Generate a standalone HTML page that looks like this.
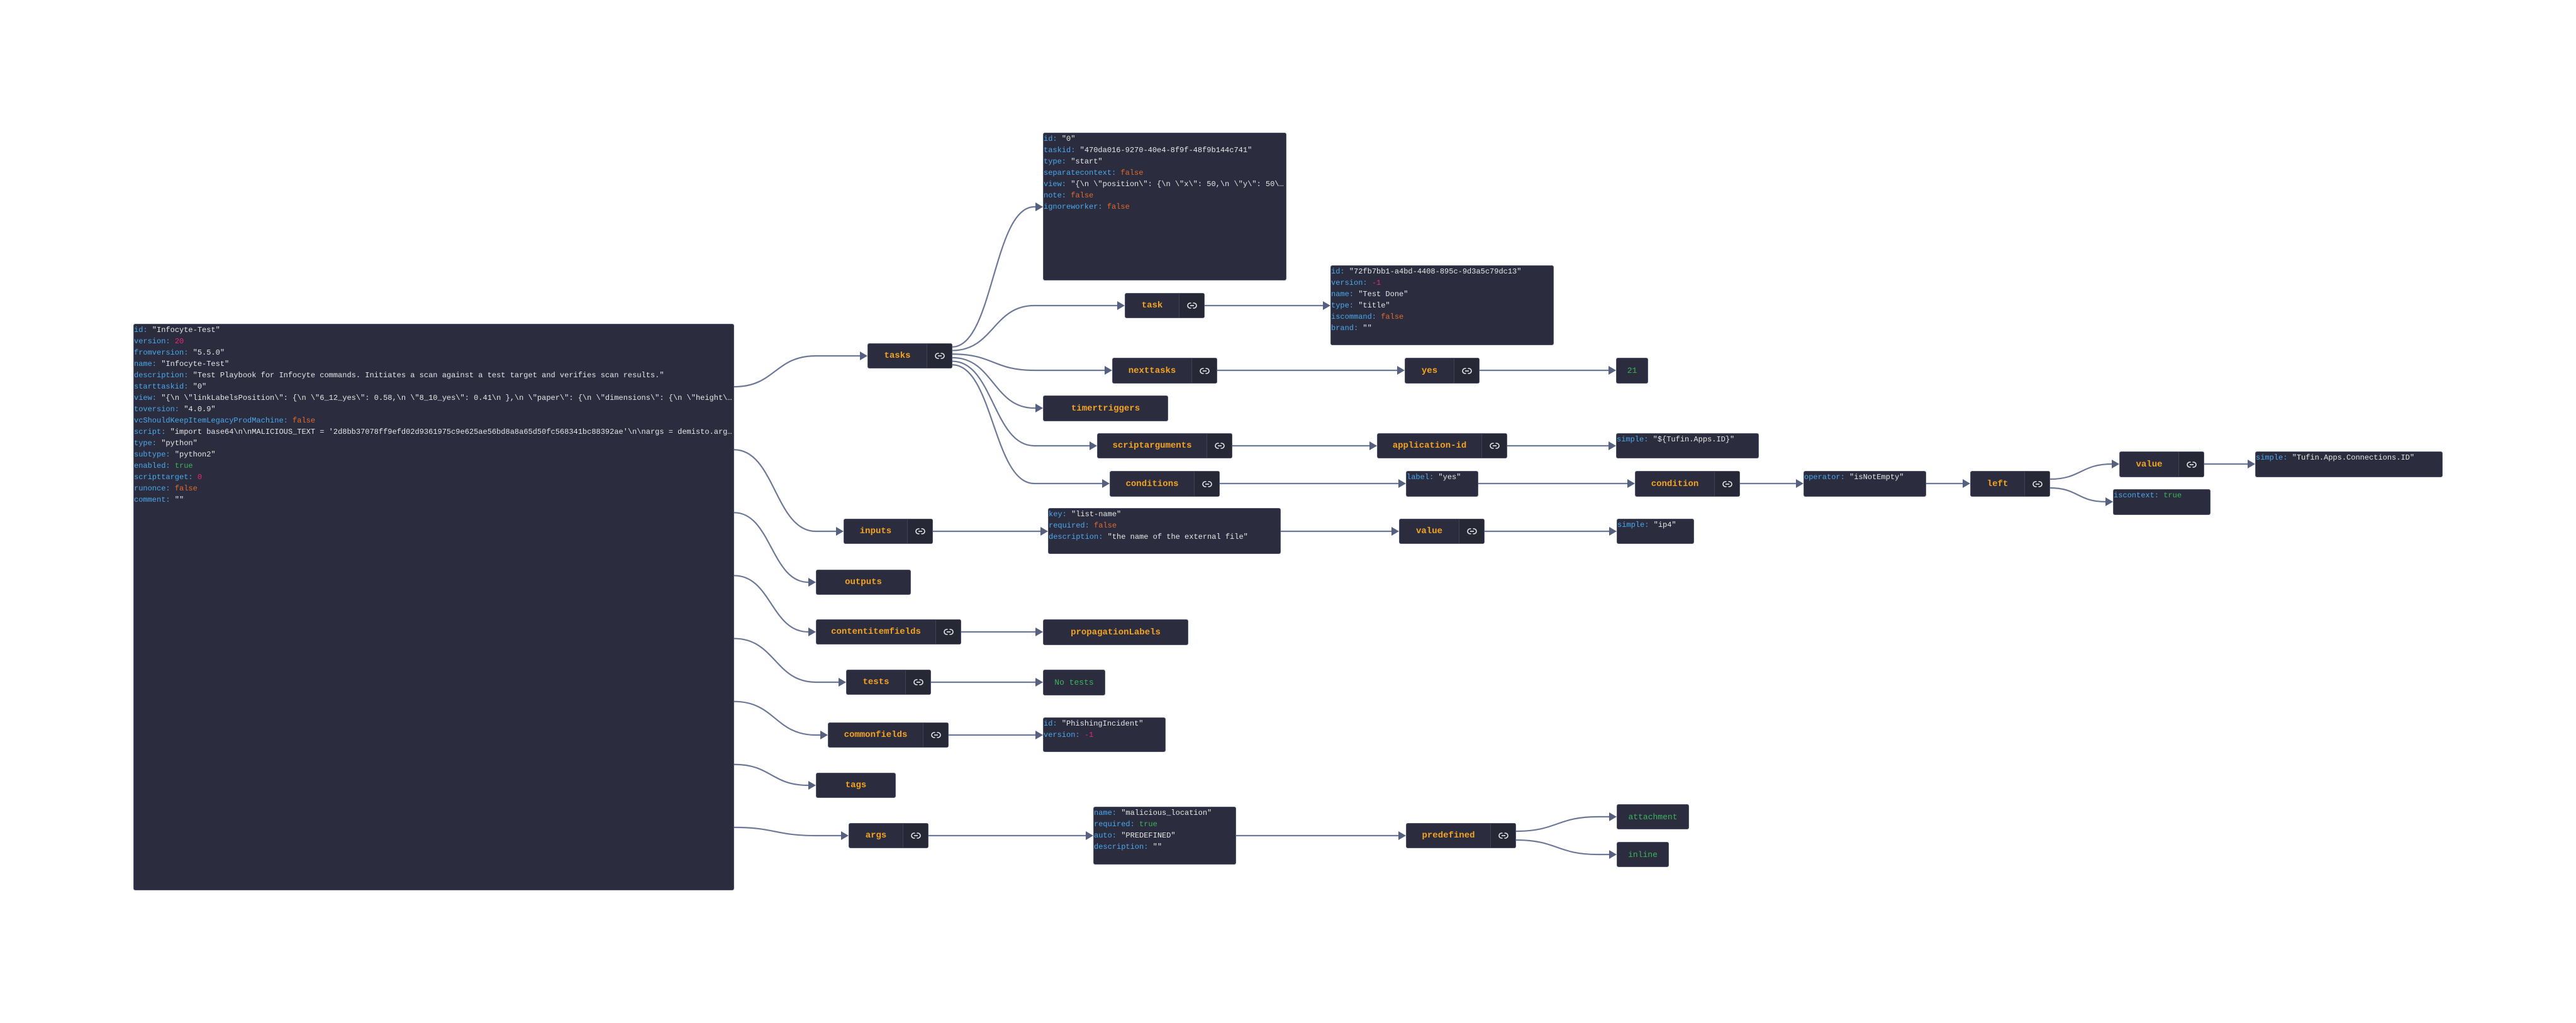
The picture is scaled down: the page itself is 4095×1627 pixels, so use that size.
<!DOCTYPE html>
<html><head><meta charset="utf-8"><style>
html,body{margin:0;padding:0;background:#fff;}
body{width:4095px;height:1627px;position:relative;overflow:hidden;font-family:"Liberation Mono",monospace;}
svg#e{position:absolute;left:0;top:0;}
.n{position:absolute;background:#2b2d3e;border:1.5px solid #4d5673;border-radius:3px;box-sizing:border-box;display:flex;align-items:stretch;}
.lb{flex:1;display:flex;align-items:center;justify-content:center;color:#f4a321;font:bold 14px "Liberation Mono",monospace;}
.g{color:#3bb55a;font-weight:normal;font-size:13px;}
.lk{width:39px;border-left:1px solid #3d4258;background:#262836;display:flex;align-items:center;justify-content:center;}
.i{position:absolute;background:#2b2d3e;border:1.5px solid #4d5673;border-radius:3px;box-sizing:border-box;font:12px/18px "Liberation Mono",monospace;color:#e6e6e6;overflow:hidden;}
.i div{white-space:nowrap;overflow:hidden;text-overflow:ellipsis;}
.k{color:#4aa8ec}.f{color:#e36a2c}.m{color:#f0266f}.t{color:#3bb55a}
</style></head><body>
<svg id="e" width="4095" height="1627"></svg>

<!-- root -->
<div class="i" style="left:212px;top:515px;width:955px;height:901px;">
<div><span class="k">id:</span> "Infocyte-Test"</div>
<div><span class="k">version:</span> <span class="m">20</span></div>
<div><span class="k">fromversion:</span> "5.5.0"</div>
<div><span class="k">name:</span> "Infocyte-Test"</div>
<div><span class="k">description:</span> "Test Playbook for Infocyte commands. Initiates a scan against a test target and verifies scan results."</div>
<div><span class="k">starttaskid:</span> "0"</div>
<div><span class="k">view:</span> "{\n \"linkLabelsPosition\": {\n \"6_12_yes\": 0.58,\n \"8_10_yes\": 0.41\n },\n \"paper\": {\n \"dimensions\": {\n \"height\": 1200,\n \"width\": 380</div>
<div><span class="k">toversion:</span> "4.0.9"</div>
<div><span class="k">vcShouldKeepItemLegacyProdMachine:</span> <span class="f">false</span></div>
<div><span class="k">script:</span> "import base64\n\nMALICIOUS_TEXT = '2d8bb37078ff9efd02d9361975c9e625ae56bd8a8a65d50fc568341bc88392ae'\n\nargs = demisto.args()\n\nfile_type = args.get</div>
<div><span class="k">type:</span> "python"</div>
<div><span class="k">subtype:</span> "python2"</div>
<div><span class="k">enabled:</span> <span class="t">true</span></div>
<div><span class="k">scripttarget:</span> <span class="m">0</span></div>
<div><span class="k">runonce:</span> <span class="f">false</span></div>
<div><span class="k">comment:</span> ""</div>
</div>

<!-- level 1 -->
<div class="n" style="left:1379px;top:546px;width:135px;height:40px;"><div class="lb">tasks</div><div class="lk">L</div></div>
<div class="n" style="left:1341px;top:825px;width:142px;height:40px;"><div class="lb">inputs</div><div class="lk">L</div></div>
<div class="n" style="left:1297px;top:906px;width:151px;height:40px;"><div class="lb">outputs</div></div>
<div class="n" style="left:1297px;top:985px;width:231px;height:40px;"><div class="lb">contentitemfields</div><div class="lk">L</div></div>
<div class="n" style="left:1345px;top:1065px;width:135px;height:40px;"><div class="lb">tests</div><div class="lk">L</div></div>
<div class="n" style="left:1316px;top:1149px;width:192px;height:40px;"><div class="lb">commonfields</div><div class="lk">L</div></div>
<div class="n" style="left:1297px;top:1229px;width:127px;height:40px;"><div class="lb">tags</div></div>
<div class="n" style="left:1349px;top:1309px;width:127px;height:40px;"><div class="lb">args</div><div class="lk">L</div></div>

<!-- tasks children -->
<div class="i" style="left:1658px;top:211px;width:387px;height:235px;">
<div><span class="k">id:</span> "0"</div>
<div><span class="k">taskid:</span> "470da016-9270-40e4-8f9f-48f9b144c741"</div>
<div><span class="k">type:</span> "start"</div>
<div><span class="k">separatecontext:</span> <span class="f">false</span></div>
<div><span class="k">view:</span> "{\n \"position\": {\n \"x\": 50,\n \"y\": 50\n }\n}"</div>
<div><span class="k">note:</span> <span class="f">false</span></div>
<div><span class="k">ignoreworker:</span> <span class="f">false</span></div>
</div>
<div class="n" style="left:1788px;top:466px;width:127px;height:40px;"><div class="lb">task</div><div class="lk">L</div></div>
<div class="n" style="left:1768px;top:569px;width:167px;height:41px;"><div class="lb">nexttasks</div><div class="lk">L</div></div>
<div class="n" style="left:1658px;top:629px;width:199px;height:41px;"><div class="lb">timertriggers</div></div>
<div class="n" style="left:1744px;top:689px;width:215px;height:40px;"><div class="lb">scriptarguments</div><div class="lk">L</div></div>
<div class="n" style="left:1764px;top:749px;width:175px;height:41px;"><div class="lb">conditions</div><div class="lk">L</div></div>

<div class="i" style="left:2115px;top:422px;width:355px;height:127px;">
<div><span class="k">id:</span> "72fb7bb1-a4bd-4408-895c-9d3a5c79dc13"</div>
<div><span class="k">version:</span> <span class="m">-1</span></div>
<div><span class="k">name:</span> "Test Done"</div>
<div><span class="k">type:</span> "title"</div>
<div><span class="k">iscommand:</span> <span class="f">false</span></div>
<div><span class="k">brand:</span> ""</div>
</div>
<div class="n" style="left:2233px;top:569px;width:119px;height:41px;"><div class="lb">yes</div><div class="lk">L</div></div>
<div class="n" style="left:2569px;top:569px;width:51px;height:41px;"><div class="lb g">21</div></div>
<div class="n" style="left:2189px;top:689px;width:207px;height:40px;"><div class="lb">application-id</div><div class="lk">L</div></div>
<div class="i" style="left:2569px;top:689px;width:227px;height:40px;"><div><span class="k">simple:</span> "${Tufin.Apps.ID}"</div></div>
<div class="i" style="left:2235px;top:749px;width:115px;height:41px;"><div><span class="k">label:</span> "yes"</div></div>
<div class="n" style="left:2599px;top:749px;width:167px;height:41px;"><div class="lb">condition</div><div class="lk">L</div></div>
<div class="i" style="left:2867px;top:749px;width:195px;height:41px;"><div><span class="k">operator:</span> "isNotEmpty"</div></div>
<div class="n" style="left:3132px;top:749px;width:127px;height:41px;"><div class="lb">left</div><div class="lk">L</div></div>
<div class="n" style="left:3369px;top:718px;width:135px;height:41px;"><div class="lb">value</div><div class="lk">L</div></div>
<div class="i" style="left:3359px;top:778px;width:155px;height:41px;"><div><span class="k">iscontext:</span> <span class="t">true</span></div></div>
<div class="i" style="left:3585px;top:718px;width:298px;height:41px;"><div><span class="k">simple:</span> "Tufin.Apps.Connections.ID"</div></div>

<!-- inputs etc -->
<div class="i" style="left:1666px;top:808px;width:370px;height:73px;">
<div><span class="k">key:</span> "list-name"</div>
<div><span class="k">required:</span> <span class="f">false</span></div>
<div><span class="k">description:</span> "the name of the external file"</div>
</div>
<div class="n" style="left:2224px;top:825px;width:136px;height:40px;"><div class="lb">value</div><div class="lk">L</div></div>
<div class="i" style="left:2570px;top:825px;width:123px;height:40px;"><div><span class="k">simple:</span> "ip4"</div></div>
<div class="n" style="left:1658px;top:985px;width:231px;height:41px;"><div class="lb">propagationLabels</div></div>
<div class="n" style="left:1658px;top:1065px;width:99px;height:41px;"><div class="lb g">No tests</div></div>
<div class="i" style="left:1658px;top:1141px;width:195px;height:55px;">
<div><span class="k">id:</span> "PhishingIncident"</div>
<div><span class="k">version:</span> <span class="m">-1</span></div>
</div>
<div class="i" style="left:1738px;top:1283px;width:227px;height:92px;">
<div><span class="k">name:</span> "malicious_location"</div>
<div><span class="k">required:</span> <span class="t">true</span></div>
<div><span class="k">auto:</span> "PREDEFINED"</div>
<div><span class="k">description:</span> ""</div>
</div>
<div class="n" style="left:2235px;top:1309px;width:175px;height:40px;"><div class="lb">predefined</div><div class="lk">L</div></div>
<div class="n" style="left:2570px;top:1279px;width:115px;height:40px;"><div class="lb g">attachment</div></div>
<div class="n" style="left:2570px;top:1339px;width:83px;height:40px;"><div class="lb g">inline</div></div>

<script>
var icon='<svg width="16" height="10" viewBox="0 0 16 10"><rect x="1" y="1" width="14" height="8" rx="4" fill="none" stroke="#e8e8e8" stroke-width="1.6"/><line x1="5" y1="5" x2="11" y2="5" stroke="#e8e8e8" stroke-width="1.6"/><line x1="8" y1="0" x2="8" y2="2" stroke="#262836" stroke-width="3"/><line x1="8" y1="8" x2="8" y2="10" stroke="#262836" stroke-width="3"/></svg>';
document.querySelectorAll('.lk').forEach(function(d){d.innerHTML=icon;});
var s='';
function e(x1,y1,x2,y2){
  var ax=x2-12,d;
  if(Math.abs(y1-y2)<1){d='M'+x1+' '+y1+' L'+ax+' '+y2;}
  else{var w=Math.min(ax-x1,130),m=x1+w/2;
    d='M'+x1+' '+y1+' C'+m+' '+y1+' '+m+' '+y2+' '+(x1+w)+' '+y2+' L'+ax+' '+y2;}
  s+='<path d="'+d+'" fill="none" stroke="#6b7898" stroke-width="2.2"/>';
  s+='<polygon points="'+ax+','+(y2-7)+' '+x2+','+y2+' '+ax+','+(y2+7)+'" fill="#55617f"/>';
}
// root
var rt=[566,845,926,1005,1085,1169,1249,1329],rx=[1379,1341,1297,1297,1345,1316,1297,1349];
for(var k=0;k<8;k++)e(1167,515+901*(k+1)/9,rx[k],rt[k]);
// tasks
var tt=[[1658,329],[1788,486],[1768,589],[1658,649],[1744,709],[1764,769]];
for(k=0;k<6;k++)e(1514,546+40*(k+1)/7,tt[k][0],tt[k][1]);
e(1915,486,2115,486);
e(1935,589,2233,589);e(2352,589,2569,589);
e(1959,709,2189,709);e(2396,709,2569,709);
e(1939,769,2235,769);e(2350,769,2599,769);e(2766,769,2867,769);e(3062,769,3132,769);
e(3259,762,3369,738);e(3259,776,3359,798);e(3504,738,3585,738);
e(1483,845,1666,845);e(2036,845,2224,845);e(2360,845,2570,845);
e(1528,1005,1658,1005);
e(1480,1085,1658,1085);
e(1508,1169,1658,1169);
e(1476,1329,1738,1329);e(1965,1329,2235,1329);
e(2410,1322,2570,1299);e(2410,1336,2570,1359);
document.getElementById('e').innerHTML=s;
</script>
</body></html>
